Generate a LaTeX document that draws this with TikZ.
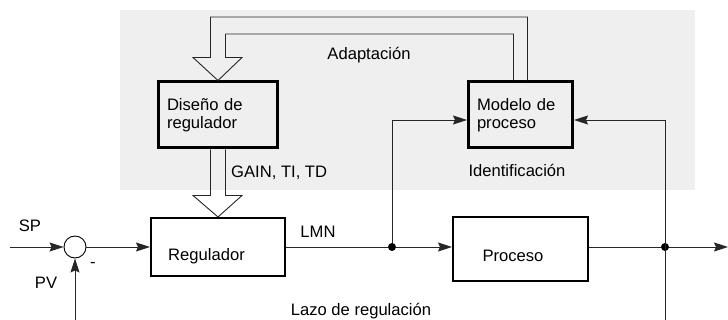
\documentclass[tikz,border=0pt]{standalone}
\usepackage{fontspec}
\setmainfont{Liberation Sans}
\usetikzlibrary{arrows.meta, positioning, calc}
\definecolor{bggray}{RGB}{239,239,239}

\begin{document}
\begin{tikzpicture}[x=1pt, y=-1pt, font=\fontsize{16.6}{18}\selectfont,
  line/.style={draw=black!85, line width=0.9pt},
  block/.style={draw, line width=2pt, minimum width=134pt, minimum height=58pt},
  design/.style={draw, line width=3pt, align=left, inner xsep=8.5pt, minimum height=66pt},
  sumnode/.style={circle, draw, line width=0.9pt, minimum size=22pt, inner sep=0pt},
  dot/.style={circle, fill, inner sep=0pt, minimum size=8pt},
  lbl/.style={inner sep=0pt},
  >={Stealth[length=14pt, width=9pt, inset=2pt]}]
\useasboundingbox (0,0) rectangle (728,320);
\fill[bggray] (120,10) rectangle (695,190);

% blocks
\node[design, minimum width=119pt, text width=102pt] (disenio) at (218,115) {Diseño de\\regulador};
\node[design, minimum width=104pt, text width=87pt] (modelo) at (520.5,115) {Modelo de\\proceso};
\node[block, label={[xshift=-11.5pt, yshift=-9.5pt]center:Regulador}] (regulador) at (218,247) {};
\node[block, minimum width=135pt, minimum height=64pt, label={[xshift=-7.5pt, yshift=-7pt]center:Proceso}] (proceso) at (520.5,249) {};
\node[sumnode] (sum) at (75,247) {};
\node[dot] (j1) at (392,247) {};
\node[dot] (j2) at (665,247) {};
\coordinate (sp) at (10,247);
\coordinate (out) at (728,247);
\coordinate (pv) at (75,320);
\coordinate (fb) at (665,320);

% control loop
\draw[line, ->] (sp) -- (sum);
\draw[line, ->] (sum) -- (regulador);
\draw[line] (regulador) -- (j1);
\draw[line, ->] (j1) -- (j1 -| proceso.west);
\draw[line] (j2 -| proceso.east) -- (j2);
\draw[line, ->] (j2) -- (out);
\draw[line, ->] (pv) -- (sum);
\draw[line, ->] (j1) |- ($(modelo.west)+(0,5)$);
\draw[line, ->] (fb) |- ($(modelo.east)+(0,5)$);

% hollow arrows
\path (disenio.south) ++(0,46) coordinate (gbase);
\draw[line] ($(disenio.south)+(-7.5,0)$) -- ($(gbase)+(-7.5,0)$) -- ($(gbase)+(-25,0)$)
  -- (regulador.north) -- ($(gbase)+(24,0)$) -- ($(gbase)+(7.5,0)$) -- ($(disenio.south)+(7.5,0)$);
\path (disenio.north) ++(0,-23) coordinate (abase);
\coordinate (outer) at (0,17);
\coordinate (inner) at (0,34);
\coordinate (mr) at ($(modelo.north)+(7,0)$);
\coordinate (ml) at ($(modelo.north)+(-7,0)$);
\coordinate (dl) at ($(abase)+(-7.5,0)$);
\coordinate (dr) at ($(abase)+(7.5,0)$);
\draw[line] (mr) -- (mr |- outer) -- (dl |- outer) -- (dl) -- ($(abase)+(-25,0)$)
  -- (disenio.north) -- ($(abase)+(24,0)$) -- (dr) -- (dr |- inner) -- (ml |- inner) -- (ml);

% labels
\node[lbl] (adapt) at (369,55) {Adaptación};
\node[lbl] (ident) at (517,170) {Identificación};
\node[lbl, anchor=west] (gain) at (231,173) {GAIN, TI, TD};
\node[lbl] (splbl) at (30,226) {SP};
\node[lbl] (pvlbl) at (46,283) {PV};
\node[lbl] (minus) at (93,265) {-};
\node[lbl] (lmn) at (318,232) {LMN};
\node[lbl] (lazo) at (361,311) {Lazo de regulación};
\end{tikzpicture}
\end{document}
